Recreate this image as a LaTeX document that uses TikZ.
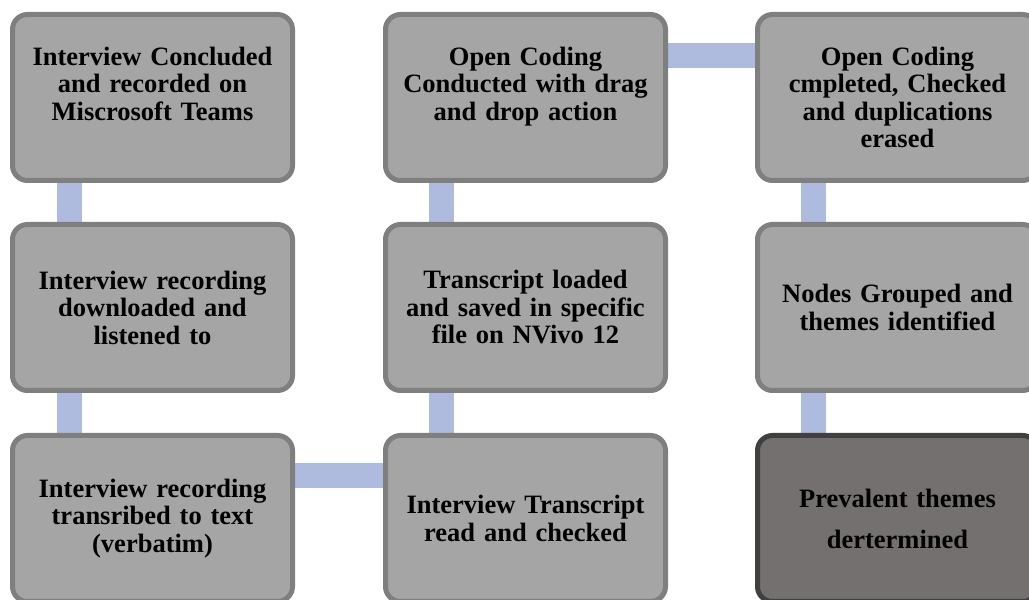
\documentclass[tikz,border=0pt]{standalone}
\usepackage{fontspec}
\setmainfont{Liberation Serif}
\usetikzlibrary{backgrounds}
\definecolor{boxfill}{HTML}{A5A5A5}
\definecolor{boxline}{HTML}{7F7F7F}
\definecolor{lastfill}{HTML}{74706F}
\definecolor{lastline}{HTML}{404040}
\definecolor{connblue}{HTML}{AEBBDE}
\tikzset{
  stepbox/.style={draw=boxline, fill=boxfill, line width=5pt, rounded corners=15pt,
    minimum width=280pt, minimum height=166pt, inner sep=0pt, text width=272pt,
    align=center, font=\fontsize{26.5}{27.5}\selectfont\bfseries},
  lastbox/.style={stepbox, draw=lastline, fill=lastfill},
  conn/.style={draw=connblue, line width=25pt}
}
\begin{document}
\begin{tikzpicture}[x=1pt,y=1pt]
\useasboundingbox (0,0) rectangle (1029,600);
% rows: y = 600 - pixel
\node[stepbox] (a1) at (152.5,502.5) {Interview Concluded\\and recorded on\\Miscrosoft Teams\\~};
\node[stepbox] (a2) at (152.5,292.5) {Interview recording\\downloaded and\\listened to};
\node[stepbox] (a3) at (152.5,81.5) {Interview recording\\transribed to text\\(verbatim)};
\node[stepbox] (b3) at (525.5,81.5) {Interview Transcript\\read and checked};
\node[stepbox] (b2) at (525.5,292.5) {Transcript loaded\\and saved in specific\\file on NVivo 12};
\node[stepbox] (b1) at (525.5,502.5) {Open Coding\\Conducted with drag\\and drop action\\~};
\node[stepbox] (c1) at (897.5,502.5) {Open Coding\\cmpleted, Checked\\and duplications\\erased};
\node[stepbox] (c2) at (897.5,292.5) {Nodes Grouped and\\themes identified};
\node[lastbox] (c3) at (897.5,81.5) {Prevalent themes\\[13.5pt]dertermined};
\begin{scope}[on background layer]
\draw[conn] ([xshift=59pt]a1.south west) -- ([xshift=59pt]a2.north west);
\draw[conn] ([xshift=59pt]a2.south west) -- ([xshift=59pt]a3.north west);
\draw[conn] ([yshift=-42.5pt]a3.north east) -- ([yshift=-42.5pt]b3.north west);
\draw[conn] ([xshift=58.5pt]b3.north west) -- ([xshift=58.5pt]b2.south west);
\draw[conn] ([xshift=58.5pt]b2.north west) -- ([xshift=58.5pt]b1.south west);
\draw[conn] ([yshift=-43.5pt]b1.north east) -- ([yshift=-43.5pt]c1.north west);
\draw[conn] ([xshift=58.5pt]c1.south west) -- ([xshift=58.5pt]c2.north west);
\draw[conn] ([xshift=58.5pt]c2.south west) -- ([xshift=58.5pt]c3.north west);
\end{scope}
\end{tikzpicture}
\end{document}
